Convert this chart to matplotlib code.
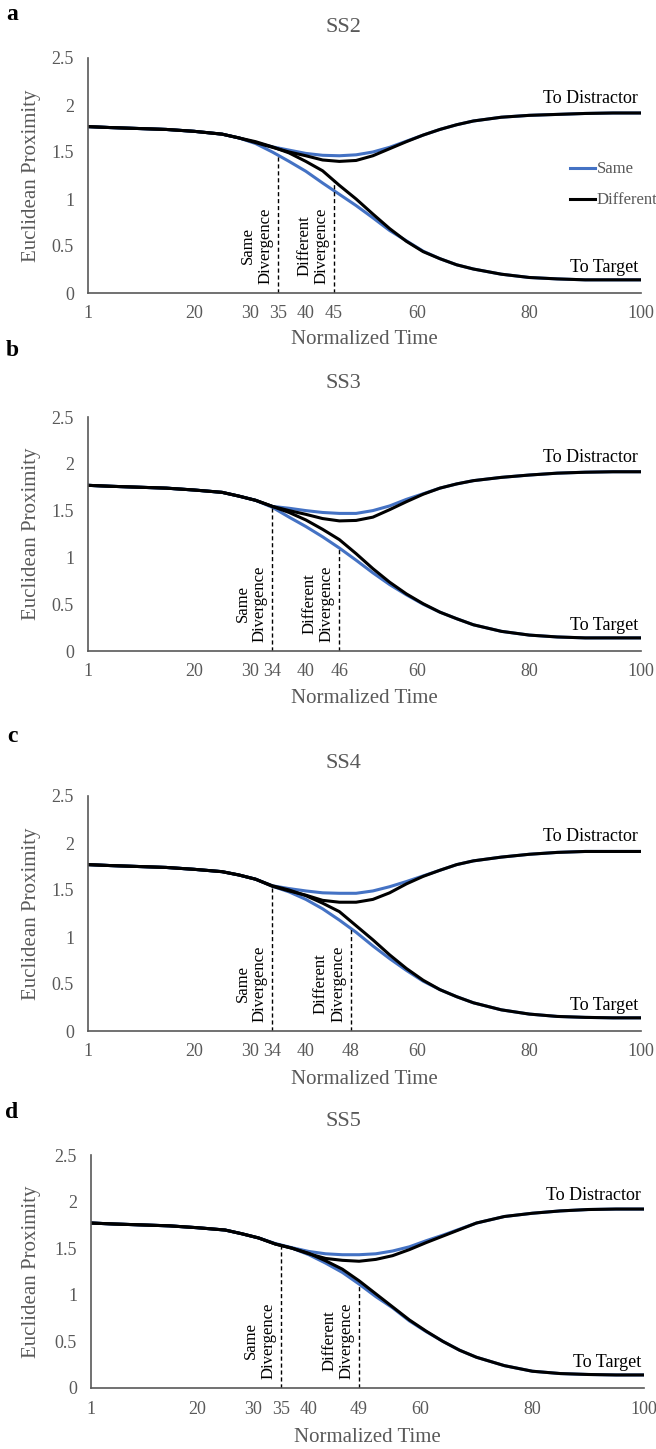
import matplotlib
matplotlib.use("Agg")
import matplotlib.pyplot as plt
from matplotlib.lines import Line2D

plt.rcParams['font.family'] = ['Liberation Serif', 'DejaVu Serif']

GRAY = '#595959'
BLUE = '#4472C4'

# normalized time grid shared by every curve
t = [1, 5, 10, 15, 20, 25, 28, 31, 34, 37, 40, 43, 46, 49, 52, 55, 58, 61, 64, 67, 70, 75, 80, 85, 90, 95, 100]

# SS2
ss2_same_dist = [1.77, 1.76, 1.75, 1.74, 1.72, 1.69, 1.65, 1.60, 1.555, 1.52, 1.485, 1.465, 1.46, 1.47, 1.50, 1.55, 1.615, 1.68, 1.74, 1.79, 1.83, 1.87, 1.89, 1.90, 1.91, 1.915, 1.915]
ss2_same_targ = [1.77, 1.76, 1.75, 1.74, 1.72, 1.69, 1.65, 1.59, 1.50, 1.40, 1.295, 1.17, 1.05, 0.93, 0.80, 0.665, 0.555, 0.445, 0.365, 0.30, 0.255, 0.20, 0.165, 0.15, 0.14, 0.14, 0.14]
ss2_diff_dist = [1.77, 1.76, 1.75, 1.74, 1.72, 1.69, 1.65, 1.60, 1.55, 1.50, 1.46, 1.415, 1.40, 1.41, 1.46, 1.535, 1.61, 1.68, 1.74, 1.79, 1.83, 1.87, 1.89, 1.90, 1.91, 1.915, 1.915]
ss2_diff_targ = [1.77, 1.76, 1.75, 1.74, 1.72, 1.69, 1.65, 1.61, 1.555, 1.49, 1.40, 1.30, 1.145, 1.00, 0.84, 0.685, 0.55, 0.44, 0.365, 0.30, 0.255, 0.20, 0.165, 0.15, 0.14, 0.14, 0.14]

# SS3
ss3_same_dist = [1.77, 1.76, 1.75, 1.74, 1.72, 1.695, 1.655, 1.61, 1.545, 1.525, 1.50, 1.48, 1.47, 1.47, 1.50, 1.55, 1.62, 1.68, 1.74, 1.785, 1.82, 1.855, 1.88, 1.90, 1.91, 1.915, 1.915]
ss3_same_targ = [1.77, 1.76, 1.75, 1.74, 1.72, 1.695, 1.655, 1.61, 1.535, 1.43, 1.33, 1.22, 1.10, 0.97, 0.835, 0.71, 0.60, 0.50, 0.415, 0.345, 0.28, 0.21, 0.17, 0.15, 0.14, 0.14, 0.14]
ss3_diff_dist = [1.77, 1.76, 1.75, 1.74, 1.72, 1.695, 1.655, 1.61, 1.545, 1.50, 1.46, 1.415, 1.39, 1.395, 1.43, 1.51, 1.595, 1.675, 1.74, 1.785, 1.82, 1.855, 1.88, 1.90, 1.91, 1.915, 1.915]
ss3_diff_targ = [1.77, 1.76, 1.75, 1.74, 1.72, 1.695, 1.655, 1.61, 1.545, 1.48, 1.40, 1.30, 1.19, 1.04, 0.88, 0.735, 0.61, 0.505, 0.415, 0.345, 0.28, 0.21, 0.17, 0.15, 0.14, 0.14, 0.14]

# SS4
ss4_same_dist = [1.77, 1.76, 1.75, 1.74, 1.72, 1.695, 1.66, 1.615, 1.545, 1.515, 1.49, 1.47, 1.465, 1.465, 1.49, 1.535, 1.59, 1.65, 1.71, 1.77, 1.81, 1.85, 1.88, 1.90, 1.91, 1.91, 1.91]
ss4_same_targ = [1.77, 1.76, 1.75, 1.74, 1.72, 1.695, 1.66, 1.615, 1.54, 1.48, 1.40, 1.30, 1.18, 1.05, 0.905, 0.77, 0.645, 0.53, 0.44, 0.365, 0.30, 0.225, 0.18, 0.155, 0.145, 0.14, 0.14]
ss4_diff_dist = [1.77, 1.76, 1.75, 1.74, 1.72, 1.695, 1.66, 1.615, 1.54, 1.49, 1.445, 1.39, 1.37, 1.37, 1.40, 1.47, 1.565, 1.645, 1.71, 1.77, 1.81, 1.85, 1.88, 1.90, 1.91, 1.91, 1.91]
ss4_diff_targ = [1.77, 1.76, 1.75, 1.74, 1.72, 1.695, 1.66, 1.615, 1.545, 1.50, 1.44, 1.36, 1.27, 1.12, 0.97, 0.81, 0.665, 0.54, 0.44, 0.365, 0.30, 0.225, 0.18, 0.155, 0.145, 0.14, 0.14]

# SS5
ss5_same_dist = [1.77, 1.76, 1.75, 1.74, 1.72, 1.695, 1.655, 1.61, 1.55, 1.505, 1.465, 1.44, 1.43, 1.43, 1.44, 1.47, 1.515, 1.58, 1.64, 1.705, 1.77, 1.84, 1.875, 1.90, 1.915, 1.92, 1.92]
ss5_same_targ = [1.77, 1.76, 1.75, 1.74, 1.72, 1.695, 1.655, 1.61, 1.545, 1.50, 1.43, 1.34, 1.24, 1.115, 0.98, 0.86, 0.72, 0.605, 0.50, 0.405, 0.33, 0.24, 0.18, 0.155, 0.145, 0.14, 0.14]
ss5_diff_dist = [1.77, 1.76, 1.75, 1.74, 1.72, 1.695, 1.655, 1.61, 1.545, 1.50, 1.44, 1.39, 1.37, 1.36, 1.38, 1.42, 1.485, 1.56, 1.63, 1.70, 1.77, 1.84, 1.875, 1.90, 1.915, 1.92, 1.92]
ss5_diff_targ = [1.77, 1.76, 1.75, 1.74, 1.72, 1.695, 1.655, 1.61, 1.545, 1.50, 1.445, 1.365, 1.275, 1.15, 1.01, 0.87, 0.73, 0.61, 0.50, 0.405, 0.33, 0.24, 0.18, 0.155, 0.145, 0.14, 0.14]

panel_letters = ['a', 'b', 'c', 'd']
titles = ['SS2', 'SS3', 'SS4', 'SS5']
same_div = [35, 34, 34, 35]
same_div_top = [1.47, 1.53, 1.54, 1.535]
diff_div = [45, 46, 48, 49]
diff_div_top = [1.20, 1.09, 1.10, 1.105]
xticks = [[1, 20, 30, 35, 40, 45, 60, 80, 100],
          [1, 20, 30, 34, 40, 46, 60, 80, 100],
          [1, 20, 30, 34, 40, 48, 60, 80, 100],
          [1, 20, 30, 35, 40, 49, 60, 80, 100]]
yticks = [0, 0.5, 1, 1.5, 2, 2.5]

series = [(ss2_same_dist, ss2_same_targ, ss2_diff_dist, ss2_diff_targ),
          (ss3_same_dist, ss3_same_targ, ss3_diff_dist, ss3_diff_targ),
          (ss4_same_dist, ss4_same_targ, ss4_diff_dist, ss4_diff_targ),
          (ss5_same_dist, ss5_same_targ, ss5_diff_dist, ss5_diff_targ)]

W, H = 656, 1449
fig = plt.figure(figsize=(W / 100, H / 100), dpi=100)
fig.patch.set_facecolor('white')

def fy(p):
    return 1 - p / H

# pixel layout of each panel: axes left, right, top, bottom, letter y, title y, xlabel y
layout = [(88, 641, 58, 293, 15, 27, 340),
          (88, 641, 417, 651, 350, 383, 698),
          (88, 641, 796, 1031, 737, 763, 1079),
          (91, 644, 1155, 1388, 1113, 1122, 1437)]

for i in range(4):
    left, right, top, bot, ly, ty, xy = layout[i]
    ax = fig.add_axes([left / W, fy(bot), (right - left) / W, (bot - top) / H])
    sd, st, dd, dt = series[i]
    ax.plot(t, sd, color=BLUE, lw=2.2, label='Same', solid_capstyle='round')
    ax.plot(t, st, color=BLUE, lw=2.2, solid_capstyle='round')
    ax.plot(t, dd, color='black', lw=2.2, label='Different', solid_capstyle='round')
    ax.plot(t, dt, color='black', lw=2.2, solid_capstyle='round')

    ax.vlines(same_div[i], 0, same_div_top[i], colors='black', linestyles=(0, (3, 2)), lw=1)
    ax.vlines(diff_div[i], 0, diff_div_top[i], colors='black', linestyles=(0, (3, 2)), lw=1)
    ax.text(same_div[i] - 0.8, 0.1, 'Same\nDivergence', rotation=90, ha='right', va='bottom',
            multialignment='center', fontsize=12, linespacing=1.1)
    ax.text(diff_div[i] - 0.8, 0.1, 'Different\nDivergence', rotation=90, ha='right', va='bottom',
            multialignment='center', fontsize=12, linespacing=1.1)

    ax.text(99.5, 2.02, 'To Distractor', ha='right', va='baseline', fontsize=13)
    ax.text(99.5, 0.22, 'To Target', ha='right', va='baseline', fontsize=13)

    ax.set_xlim(1, 100)
    ax.set_ylim(0, 2.5)
    ax.set_xticks(xticks[i])
    ax.set_yticks(yticks)
    ax.set_yticklabels(['%g' % v for v in yticks])
    ax.tick_params(length=0, labelsize=13, colors=GRAY)
    ax.tick_params(axis='x', pad=9)
    ax.tick_params(axis='y', pad=10)
    for s in ['top', 'right']:
        ax.spines[s].set_visible(False)
    for s in ['left', 'bottom']:
        ax.spines[s].set_color(GRAY)
        ax.spines[s].set_linewidth(1.2)

    fig.text((left + right) / 2 / W, fy(xy), 'Normalized Time', ha='center', va='center',
             fontsize=15, color=GRAY)
    fig.text(32 / W, fy((top + bot) / 2), 'Euclidean Proximity', rotation=90, ha='center',
             va='center', fontsize=15, color=GRAY)
    fig.text(343 / W, fy(ty), titles[i], ha='center', va='center', fontsize=16, color=GRAY)
    fig.text(12 / W, fy(ly), panel_letters[i], ha='center', va='center', fontsize=17,
             fontweight='bold')

    if i == 0:
        handles = [Line2D([], [], color=BLUE, lw=2.2), Line2D([], [], color='black', lw=2.2)]
        leg = ax.legend(handles, ['Same', 'Different'], loc='center left',
                        bbox_to_anchor=(0.872, 0.46), frameon=False, fontsize=12,
                        handlelength=1.5, handletextpad=0.1, borderpad=0,
                        borderaxespad=0, labelspacing=0.9)
        for txt in leg.get_texts():
            txt.set_color(GRAY)

fig.savefig('out.png', dpi=100, facecolor='white')
